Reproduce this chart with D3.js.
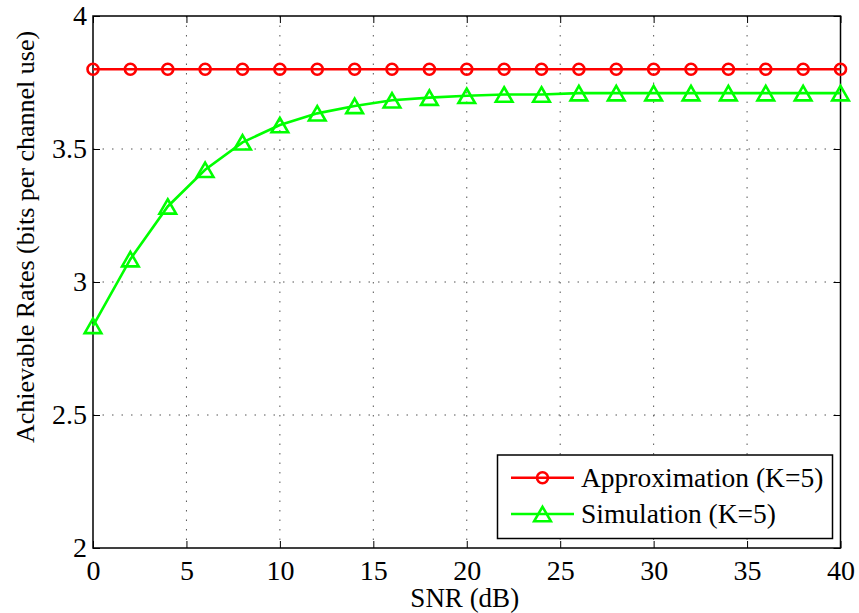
<!DOCTYPE html>
<html>
<head>
<meta charset="utf-8">
<script src="https://cdn.jsdelivr.net/npm/d3@7"></script>
<style>
  html, body { margin: 0; padding: 0; background: #fff; }
  svg text { font-family: "Liberation Serif", "Times New Roman", serif; fill: #000; }
</style>
</head>
<body>
<svg id="chart" width="859" height="613"></svg>
<script>
// SNR points (dB)
const snr = [0, 2, 4, 6, 8, 10, 12, 14, 16, 18, 20, 22, 24, 26, 28, 30, 32, 34, 36, 38, 40];
// Achievable rates (bits per channel use)
const approximation = [3.8, 3.8, 3.8, 3.8, 3.8, 3.8, 3.8, 3.8, 3.8, 3.8, 3.8, 3.8, 3.8, 3.8, 3.8, 3.8, 3.8, 3.8, 3.8, 3.8, 3.8];
const simulation = [2.835, 3.086, 3.284, 3.422, 3.525, 3.590, 3.634, 3.662, 3.683, 3.693, 3.700, 3.705, 3.705, 3.710, 3.710, 3.710, 3.710, 3.710, 3.710, 3.710, 3.710];
const xTicks = [0, 5, 10, 15, 20, 25, 30, 35, 40];
const yTicks = [2, 2.5, 3, 3.5, 4];
const seriesNames = ["Approximation (K=5)", "Simulation (K=5)"];

const svg = d3.select("#chart");
const plotL = 93, plotR = 840.5, plotT = 16, plotB = 548;

const x = d3.scaleLinear().domain([0, 40]).range([plotL, plotR]);
const y = d3.scaleLinear().domain([2, 4]).range([plotB, plotT]);

// dotted grid
const grid = svg.append("g");
grid.selectAll("line.gx").data(xTicks.slice(1, -1)).join("line")
  .attr("x1", d => x(d)).attr("x2", d => x(d))
  .attr("y1", plotT).attr("y2", plotB)
  .attr("stroke", "#555").attr("stroke-width", 1).attr("stroke-dasharray", "1.5,8");
grid.selectAll("line.gy").data(yTicks.slice(1, -1)).join("line")
  .attr("x1", plotL).attr("x2", plotR)
  .attr("y1", d => y(d)).attr("y2", d => y(d))
  .attr("stroke", "#555").attr("stroke-width", 1).attr("stroke-dasharray", "1.5,8");

// axes with inward ticks on all four sides
const tickLen = 7;
const tickFont = 28;
svg.append("g").attr("transform", `translate(0,${plotB})`)
  .call(d3.axisBottom(x).tickValues(xTicks).tickSize(-tickLen).tickPadding(12).tickFormat(d3.format("d")))
  .call(g => g.select(".domain").remove())
  .call(g => g.selectAll("text").attr("font-size", tickFont));
svg.append("g").attr("transform", `translate(0,${plotT})`)
  .call(d3.axisTop(x).tickValues(xTicks).tickSize(-tickLen).tickFormat(""))
  .call(g => g.select(".domain").remove());
svg.append("g").attr("transform", `translate(${plotL},0)`)
  .call(d3.axisLeft(y).tickValues(yTicks).tickSize(-tickLen).tickPadding(6).tickFormat(d => d3.format("")(d)))
  .call(g => g.select(".domain").remove())
  .call(g => g.selectAll("text").attr("font-size", tickFont));
svg.append("g").attr("transform", `translate(${plotR},0)`)
  .call(d3.axisRight(y).tickValues(yTicks).tickSize(-tickLen).tickFormat(""))
  .call(g => g.select(".domain").remove());
svg.selectAll(".tick line").attr("stroke", "#000").attr("stroke-width", 1);

svg.append("rect").attr("x", plotL).attr("y", plotT)
  .attr("width", plotR - plotL).attr("height", plotB - plotT)
  .attr("fill", "none").attr("stroke", "#000").attr("stroke-width", 1.5);

// axis titles
svg.append("text").attr("x", (plotL + plotR) / 2 - 2).attr("y", 607)
  .attr("text-anchor", "middle").attr("font-size", 27).text("SNR (dB)");
svg.append("text").attr("transform", `translate(34,${(plotT + plotB) / 2 - 45}) rotate(-90)`)
  .attr("text-anchor", "middle").attr("font-size", 26).text("Achievable Rates (bits per channel use)");

const line = d3.line().x((d, i) => x(snr[i])).y(d => y(d));
const red = "#ff0000", green = "#00ff00";
const tri = d3.symbol().type(d3.symbolTriangle).size(120);
const lw = 2.6;

// Approximation series
svg.append("path").datum(approximation).attr("d", line)
  .attr("fill", "none").attr("stroke", red).attr("stroke-width", lw);
svg.append("g").selectAll("circle").data(approximation).join("circle")
  .attr("cx", (d, i) => x(snr[i])).attr("cy", d => y(d)).attr("r", 5.5)
  .attr("fill", "none").attr("stroke", red).attr("stroke-width", lw);

// Simulation series
svg.append("path").datum(simulation).attr("d", line)
  .attr("fill", "none").attr("stroke", green).attr("stroke-width", lw);
svg.append("g").selectAll("path").data(simulation).join("path")
  .attr("d", tri)
  .attr("transform", (d, i) => `translate(${x(snr[i])},${y(d) + 2.4})`)
  .attr("fill", "none").attr("stroke", green).attr("stroke-width", lw);

// legend
const lg = svg.append("g");
lg.append("rect").attr("x", 497.5).attr("y", 455).attr("width", 335).attr("height", 83.5)
  .attr("fill", "#fff").attr("stroke", "#000").attr("stroke-width", 1.5);
const rows = [477.7, 514];
[0, 1].forEach(k => {
  const col = k === 0 ? red : green;
  lg.append("line").attr("x1", 511).attr("x2", 574).attr("y1", rows[k]).attr("y2", rows[k])
    .attr("stroke", col).attr("stroke-width", lw);
  if (k === 0) {
    lg.append("circle").attr("cx", 542.5).attr("cy", rows[k]).attr("r", 5.5)
      .attr("fill", "none").attr("stroke", col).attr("stroke-width", lw);
  } else {
    lg.append("path").attr("d", tri).attr("transform", `translate(542.5,${rows[k] + 2.4})`)
      .attr("fill", "none").attr("stroke", col).attr("stroke-width", lw);
  }
  lg.append("text").attr("x", 581).attr("y", rows[k] + 9)
    .attr("font-size", 27.5).text(seriesNames[k]);
});
</script>
</body>
</html>
